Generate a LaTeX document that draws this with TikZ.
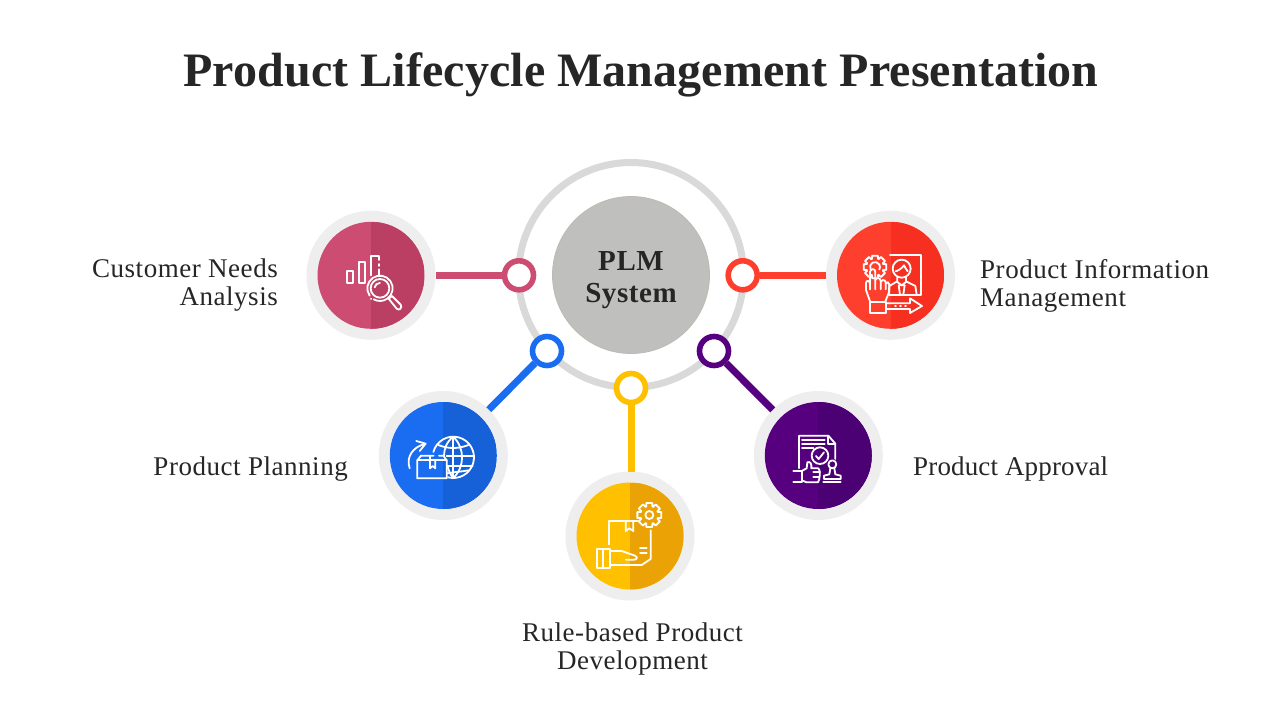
\documentclass[tikz,border=0pt]{standalone}
\usepackage{fontspec}
\setmainfont{Liberation Serif}
\definecolor{ink}{HTML}{262626}
\definecolor{ringgray}{HTML}{D9D9D9}
\definecolor{halogray}{HTML}{EEEEEE}
\definecolor{coregray}{HTML}{BFBFBE}
\definecolor{pinkA}{HTML}{CD4C71}\definecolor{pinkB}{HTML}{BB3F62}
\definecolor{redA}{HTML}{FF3F2E}\definecolor{redB}{HTML}{F62F20}
\definecolor{blueA}{HTML}{1A6CF0}\definecolor{blueB}{HTML}{1660D8}
\definecolor{yelA}{HTML}{FFC000}\definecolor{yelB}{HTML}{EBA205}
\definecolor{purA}{HTML}{56007F}\definecolor{purB}{HTML}{4B0074}
\tikzset{
  halo/.style={circle,fill=halogray,minimum size=129pt,inner sep=0pt,outer sep=0pt},
  disc/.style 2 args={circle,minimum size=107pt,inner sep=0pt,outer sep=0pt,fill=#1,
    path picture={\fill[#2] (path picture bounding box.north) rectangle (path picture bounding box.south east);}},
  knob/.style={circle,draw=#1,fill=white,line width=5.6pt,minimum size=29pt,inner sep=0pt},
  link/.style={draw=#1,line width=7pt},
  label/.style={font=\fontsize{27}{28}\selectfont\addfontfeature{LetterSpace=2.0},text=ink,inner sep=0pt},
  icon/.style={draw=white,line width=1.8pt,line join=round,line cap=round},
}
\newcommand{\gearpath}[4]{% cx cy Router Rinner
  \draw[icon,shift={(#1,#2)}] (-14:#3) \foreach \i in {0,...,7}{ -- ({\i*45-14}:#3) -- ({\i*45+14}:#3) -- ({\i*45+20}:#4) -- ({\i*45+25}:#4)} -- cycle;}
\begin{document}
\begin{tikzpicture}[x=1pt,y=-1pt]
\useasboundingbox (0,0) rectangle (1280,720);
\fill[white] (0,0) rectangle (1280,720);
\node[inner sep=0pt,anchor=base,font=\fontsize{48}{52}\selectfont\bfseries\addfontfeature{LetterSpace=0.2},text=ink] (title) at (641,86) {Product Lifecycle Management Presentation};

\node[circle,draw=ringgray,line width=7pt,minimum size=225pt,inner sep=0pt] (ring) at (631,275) {};
\node[circle,fill=coregray,draw=coregray!90!brown,line width=.8pt,minimum size=157pt,inner sep=0pt] (core) at (631,275) {};
\node[inner sep=0pt,align=center,text=ink,font=\fontsize{29}{32}\selectfont\bfseries\addfontfeature{LetterSpace=2.0}] (corelabel) at (631,280) {PLM\\System};

\node[halo] (h1) at (371,275.3) {};
\node[halo] (h2) at (890.5,275.3) {};
\node[halo] (h3) at (443.3,455.5) {};
\node[halo] (h4) at (630,536) {};
\node[halo] (h5) at (818.3,455.5) {};
\node[disc={pinkA}{pinkB}] (d1) at (371,275.3) {};
\node[disc={redA}{redB}] (d2) at (890.5,275.3) {};
\node[disc={blueA}{blueB}] (d3) at (443.3,455.5) {};
\node[disc={yelA}{yelB}] (d4) at (630,536) {};
\node[disc={purA}{purB}] (d5) at (818.3,455.5) {};

\node[knob=pinkA] (k1) at (519,275.3) {};
\node[knob=redA] (k2) at (742.7,275.3) {};
\node[knob=blueA] (k3) at (547,351) {};
\node[knob=yelA] (k4) at (631,388) {};
\node[knob=purA] (k5) at (714,351) {};

\draw[link=pinkA] (h1) -- (k1);
\draw[link=redA] (h2) -- (k2);
\draw[link=blueA] (h3) -- (k3);
\draw[link=yelA] (h4.north -| k4) -- (k4);
\draw[link=purA] (h5) -- (k5);

\node[label,anchor=east,align=right] (t1) at (278,285.5) {Customer Needs\\Analysis};
\node[label,anchor=west,align=left] (t2) at (980,285.5) {Product Information\\Management};
\node[label,anchor=east] (t3) at (348,469) {Product Planning};
\node[label,align=center] (t4) at (632.5,649) {Rule-based Product\\Development};
\node[label,anchor=west,font=\fontsize{27}{28}\selectfont\addfontfeature{LetterSpace=0.6}] (t5) at (913,469) {Product Approval};

% pink icon
\begin{scope}[shift={(300,200)},scale=1/3]
\draw[icon] (140,212) rectangle (160,248);
\draw[icon] (176,248) -- (176,186) -- (196,186) -- (196,248) -- cycle;
\draw[icon] (212,226) -- (212,168) -- (236,168) -- (236,180);
\draw[icon] (236,192) -- (236,198) (236,208) -- (236,224);
\draw[icon] ([shift={(145:38)}]240,265) arc[start angle=145,end angle=480,radius=38];
\draw[icon] (240,265) circle[radius=28];
\draw[icon] (224,262) arc[start angle=190,end angle=270,radius=16];
\draw[icon] (213,296) -- (214,297);
\draw[icon] (266,296) -- (276,288) -- (302,314) .. controls (308,322) and (298,334) .. (290,326) -- cycle;
\end{scope}

% red icon
\begin{scope}[shift={(720,200)},scale=1/3]
\draw[icon] (510,166) -- (604,166) -- (604,284) -- (508,284);
\gearpath{465}{201}{35}{26}
\draw[icon] ([shift={(150:15)}]465,201) arc[start angle=150,end angle=390,radius=15];
\draw[icon] (545,206) circle[radius=27];
\draw[icon] (527,214) .. controls (534,212) and (545,206) .. (552,196) .. controls (556,204) and (560,210) .. (563,214);
\draw[icon] (532,232) -- (532,244) -- (508,258) -- (506,284);
\draw[icon] (558,232) -- (558,244) -- (586,258) -- (590,284);
\draw[icon] (532,246) -- (545,256) -- (558,246);
\draw[icon] (536,256) -- (554,256) -- (550,284) -- (540,284) -- cycle;
\draw[icon] (450,304) -- (438,270) -- (438,250) .. controls (438,240) and (448,240) .. (450,250) -- (450,268);
\draw[icon] (450,268) -- (450,215) .. controls (452,205) and (466,205) .. (466,215) -- (466,268);
\draw[icon] (466,240) .. controls (468,232) and (480,232) .. (482,242) -- (482,268);
\draw[icon] (482,245) .. controls (484,238) and (494,238) .. (497,246) -- (497,268);
\draw[icon] (497,250) .. controls (500,244) and (508,246) .. (508,254) -- (508,275) -- (496,304);
\draw[icon] (450,305) rectangle (498,338);
\draw[icon] (500,310) -- (570,310) -- (570,295) -- (606,318) -- (570,339) -- (570,327) -- (500,327);
\draw[icon] (525,318) -- (528,318) (540,318) -- (543,318) (555,318) -- (558,318);
\end{scope}

% blue icon
\begin{scope}[shift={(375,385)},scale=1/3]
\draw[icon] (104,250) .. controls (92,215) and (115,185) .. (150,177);
\draw[icon] (124,168) -- (152,176) -- (134,198);
\draw[icon] (127,280) -- (127,226) -- (138,212) -- (176,212);
\draw[icon] (127,226) -- (215,226);
\draw[icon] (127,280) -- (215,280) -- (215,226) -- (205,212) -- (192,212);
\draw[icon] (165,212) -- (165,250) -- (173,243) -- (181,250) -- (181,226);
\draw[icon] ([shift={(195:62)}]235,217) arc[start angle=195,end angle=465,radius=62];
\draw[icon] (235,155) .. controls (215,170) and (207,192) .. (207,212);
\draw[icon] (218,242) .. controls (220,255) and (226,270) .. (235,279);
\draw[icon] (235,155) .. controls (270,190) and (270,245) .. (235,279);
\draw[icon] (235,155) -- (235,279);
\draw[icon] (190,180) .. controls (220,192) and (250,192) .. (280,180);
\draw[icon] (215,212) -- (297,212);
\draw[icon] (215,242) -- (293,242);
\draw[icon] (218,265) .. controls (240,260) and (262,260) .. (280,256);
\end{scope}

% yellow icon
\begin{scope}[shift={(560,465)},scale=1/3]
\gearpath{268}{150}{37}{27}
\draw[icon] (268,150) circle[radius=12];
\draw[icon] (147,238) -- (147,168) -- (232,168);
\draw[icon] (272,196) -- (272,282) -- (245,300) -- (150,300);
\draw[icon] (197,168) -- (197,198) -- (208,190) -- (220,198) -- (220,168);
\draw[icon] (240,250) -- (260,250) (240,265) -- (260,265);
\draw[icon] (110,253) rectangle (150,310);
\draw[icon] (130,253) -- (130,310);
\draw[icon] (150,258) -- (185,258) -- (225,272) .. controls (235,278) and (230,284) .. (222,284) -- (198,284);
\end{scope}

% purple icon
\begin{scope}[shift={(750,385)},scale=1/3]
\draw[icon] (147,250) -- (147,152) -- (235,152) -- (256,176) -- (256,222);
\draw[icon] (235,152) -- (235,176) -- (256,176);
\draw[icon] (156,165) -- (224,165) (156,178) -- (224,178) (156,190) -- (190,190);
\draw[icon] (210,212) circle[radius=25];
\draw[icon] (198,213) -- (206,222) -- (222,202);
\draw[icon] (130,258) -- (155,258) -- (155,290) -- (130,290);
\draw[icon] (155,258) -- (170,250) -- (172,232) .. controls (180,228) and (186,236) .. (184,250) -- (205,250) .. controls (212,252) and (210,285) .. (204,292) -- (170,292) -- (155,286);
\draw[icon] (190,262) -- (210,262) (190,275) -- (208,275);
\draw[icon] (247,238) circle[radius=12];
\draw[icon] (241,250) -- (238,268) -- (222,272) -- (222,282) -- (272,282) -- (272,272) -- (256,268) -- (253,250);
\draw[icon] (220,291) -- (272,291);
\end{scope}
\end{tikzpicture}
\end{document}
